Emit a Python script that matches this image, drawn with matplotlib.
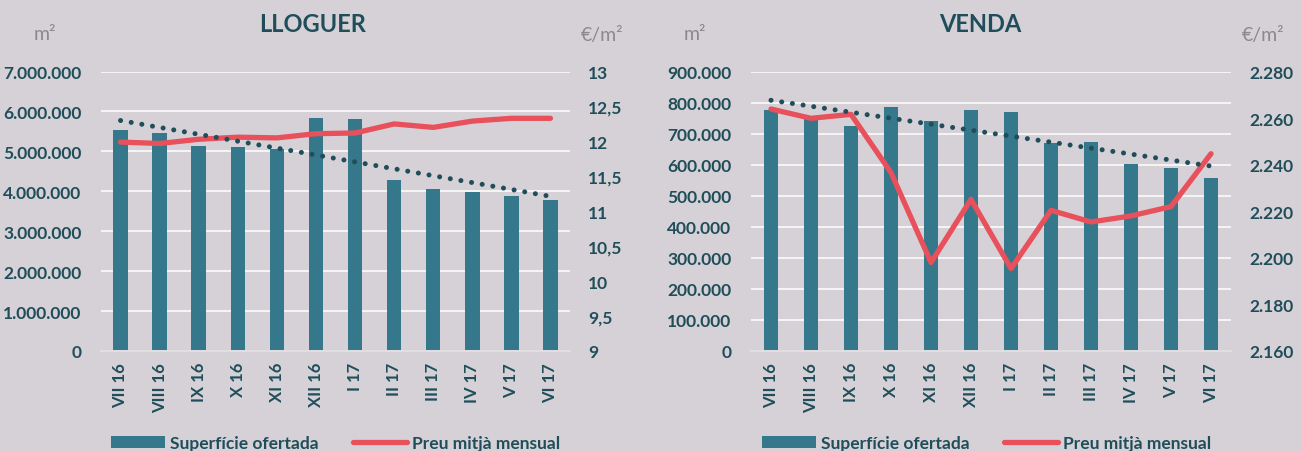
import matplotlib
matplotlib.use("Agg")
import matplotlib.pyplot as plt
import numpy as np
from matplotlib.ticker import FuncFormatter, MultipleLocator

plt.rcParams["font.family"] = ["Lato", "DejaVu Sans"]

# --- data ---
months = ["VII 16", "VIII 16", "IX 16", "X 16", "XI 16", "XII 16",
          "I 17", "II 17", "III 17", "IV 17", "V 17", "VI 17"]

lloguer_sup = [5540000, 5460000, 5125000, 5110000, 5060000, 5825000,
               5800000, 4275000, 4050000, 3970000, 3875000, 3780000]
lloguer_preu = [11.99, 11.97, 12.03, 12.06, 12.05, 12.11,
                12.12, 12.25, 12.20, 12.29, 12.33, 12.33]

venda_sup = [777000, 750000, 724000, 787000, 742000, 777000,
             768000, 671000, 672000, 601000, 590000, 558000]
venda_preu = [2263.9, 2259.9, 2261.6, 2236.6, 2198.0, 2225.1,
              2195.4, 2220.4, 2215.4, 2218.0, 2222.0, 2244.7]

BG = "#D6D1D7"
BAR = "#35788C"
RED = "#E8505B"
DARK = "#1F4E5A"
GREY = "#8A8A8A"
W, H = 1302, 452


def thousands(v, _pos=None):
    return f"{v:,.0f}".replace(",", ".")


def decimal_comma(v, _pos=None):
    s = f"{v:g}"
    return s.replace(".", ",")


def draw_panel(fig, left_px, right_px, title, title_x, sup, preu,
               ymax, ystep, y2lim, y2step, y2fmt, bar_w, legend_x):
    ax = fig.add_axes([left_px / W, 1 - 352 / H,
                       (right_px - left_px) / W, (352 - 72.5) / H])
    ax.set_facecolor(BG)
    x = np.arange(len(months))

    bars = ax.bar(x, sup, width=bar_w, color=BAR, zorder=2,
                  label="Superfície ofertada")
    ax.set_xlim(-0.5, len(months) - 0.5)
    ax.set_ylim(0, ymax)
    ax.yaxis.set_major_locator(MultipleLocator(ystep))
    ax.yaxis.set_major_formatter(FuncFormatter(thousands))
    ax.grid(axis="y", color="white", lw=1.1, zorder=0)
    ax.set_axisbelow(True)
    for s in ["top", "left", "right"]:
        ax.spines[s].set_visible(False)
    ax.spines["bottom"].set_color("#E2DFE3")
    ax.spines["bottom"].set_linewidth(1.4)
    ax.set_xticks(x)
    ax.set_xticklabels(months, rotation=90, fontsize=12, fontweight="bold",
                       color=DARK)
    ax.tick_params(axis="x", length=0, pad=8)
    ax.tick_params(axis="y", length=0, pad=14, labelsize=12.5,
                   labelcolor=DARK)
    for t in ax.get_yticklabels():
        t.set_fontweight("bold")

    ax2 = ax.twinx()
    line, = ax2.plot(x, preu, color=RED, lw=3.8, solid_capstyle="round",
                     solid_joinstyle="round", zorder=3,
                     label="Preu mitjà mensual")
    ax2.set_ylim(*y2lim)
    ax2.yaxis.set_major_locator(MultipleLocator(y2step))
    ax2.yaxis.set_major_formatter(FuncFormatter(y2fmt))
    for s in ["top", "left", "right", "bottom"]:
        ax2.spines[s].set_visible(False)
    ax2.tick_params(axis="y", length=0, pad=13, labelsize=12.5,
                    labelcolor=DARK)
    for t in ax2.get_yticklabels():
        t.set_fontweight("bold")

    # linear trend of the offered surface
    k, b = np.polyfit(x, sup, 1)
    ax2.plot(x, k * x + b, transform=ax.transData, color=DARK, lw=3.6,
             linestyle=(0, (0.01, 2.15)), dash_capstyle="round", zorder=4)

    fig.text(title_x / W, 1 - 24 / H, title, ha="center", va="center",
             fontsize=17, fontweight="bold", color=DARK)
    fig.text((left_px - 56) / W, 1 - 35 / H, "m²", ha="center",
             va="center", fontsize=14, color=GREY)
    fig.text((right_px + 32) / W, 1 - 35 / H, "€/m²", ha="center",
             va="center", fontsize=14, color=GREY)

    fig.legend([bars, line], ["Superfície ofertada", "Preu mitjà mensual"],
               loc="center left", bbox_to_anchor=(legend_x / W, 1 - 444 / H),
               ncol=2, frameon=False, borderpad=0, borderaxespad=0,
               handlelength=3.1, handletextpad=0.3, columnspacing=2.0,
               prop={"weight": "bold", "size": 12.5},
               labelcolor=DARK)


fig = plt.figure(figsize=(W / 100, H / 100), dpi=100)
fig.patch.set_facecolor(BG)

draw_panel(fig, 101, 570, "LLOGUER", 313, lloguer_sup, lloguer_preu,
           7000000, 1000000, (9, 13), 0.5, decimal_comma, 0.37, 111)
draw_panel(fig, 751, 1231, "VENDA", 980, venda_sup, venda_preu,
           900000, 100000, (2160, 2280), 20, thousands, 0.35, 762)

fig.savefig("out.png", dpi=100, facecolor=BG)
